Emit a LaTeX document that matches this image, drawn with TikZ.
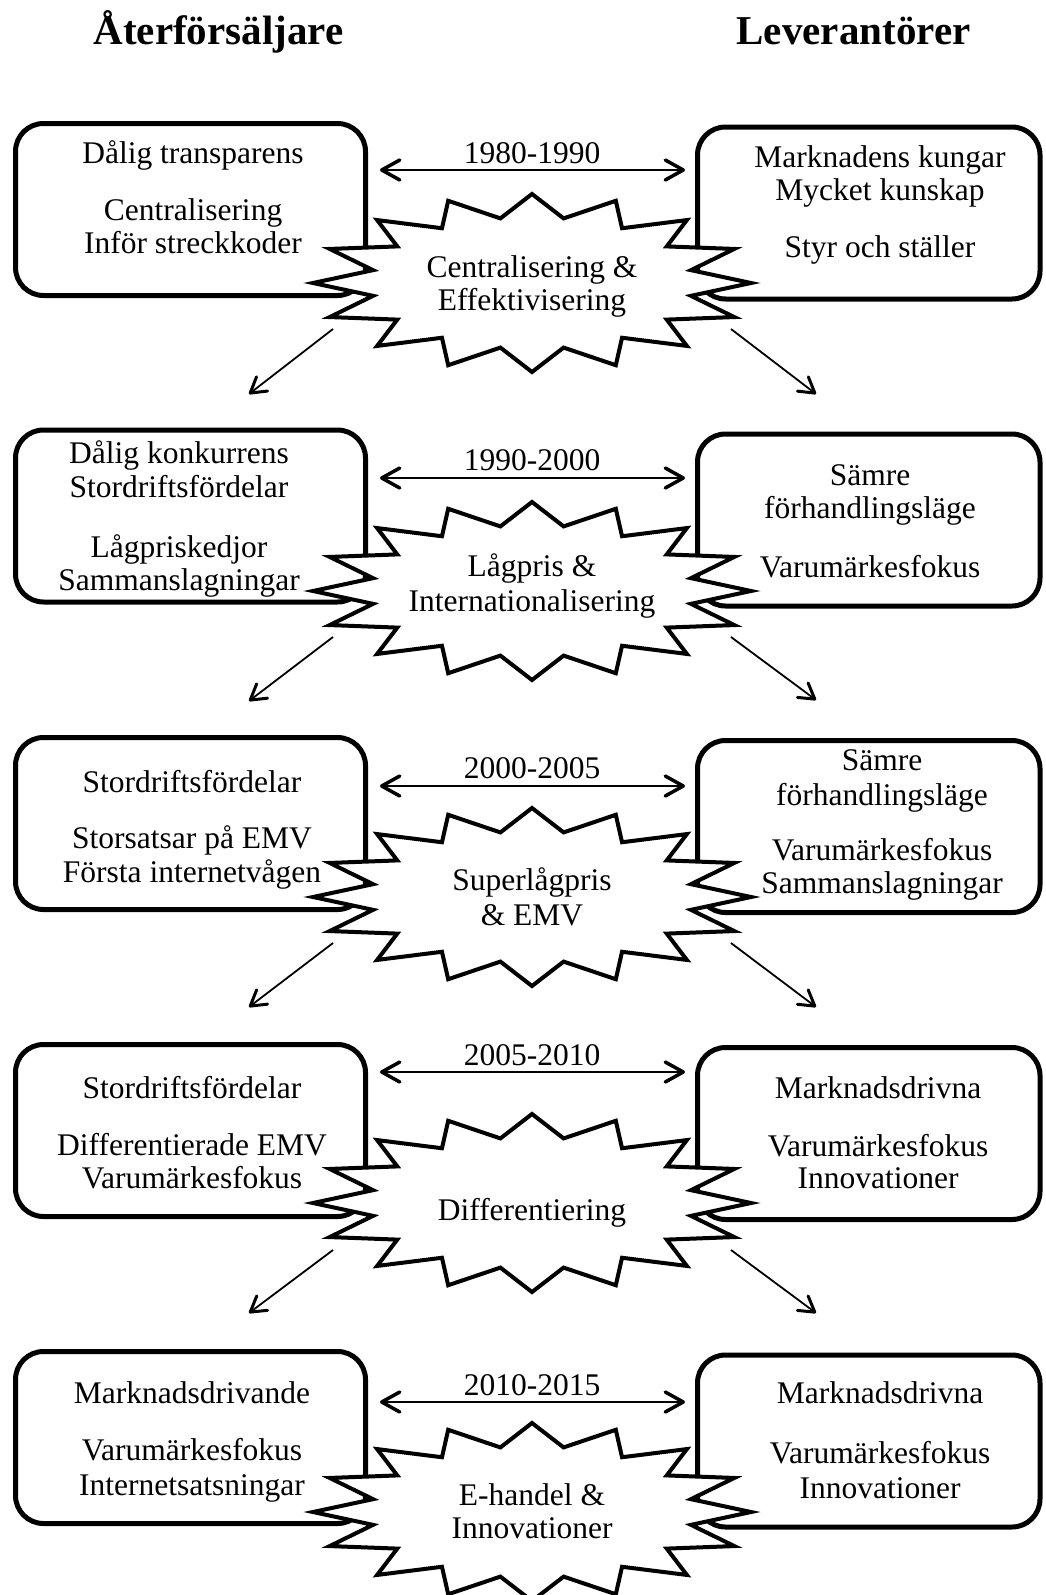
\documentclass[tikz,border=0pt]{standalone}
\usepackage{fontspec}
\setmainfont{Liberation Serif}
\usetikzlibrary{arrows.meta}

\begin{document}
\begin{tikzpicture}[x=1pt,y=-1pt,
  every node/.style={inner sep=0pt,outer sep=0pt},
  head/.style={font=\fontsize{41}{45}\selectfont\bfseries,anchor=base},
  txt/.style={font=\fontsize{31.5}{34}\selectfont,text height=21pt,text depth=7pt,anchor=center,yshift=-3pt},
  lbox/.style={draw,line width=5pt,rounded corners=28pt,minimum width=350pt,minimum height=172pt},
  rbox/.style={draw,line width=5pt,rounded corners=28pt,minimum width=342.5pt,minimum height=172pt},
  burst/.style={draw,fill=white,line width=4pt,line join=miter},
  barb/.tip={Straight Barb[length=18pt,width=20pt,line width=3.5pt,round]},
  smallbarb/.tip={Straight Barb[length=15pt,width=18pt,line width=3pt,round]},
  period/.style={line width=2.3pt,barb-barb},
  trend/.style={line width=1.8pt,-smallbarb}
]
\useasboundingbox (0,0) rectangle (1045,1595);

% 16-point burst centred at x = 532
\newcommand\burstat[1]{%
  \draw[burst] plot[samples at={0,...,31}]
    ({532+219*(1-0.26*mod(\x,2))*cos(90+11.25*\x)},
     {#1+89*(1-0.26*mod(\x,2))*sin(90+11.25*\x)}) -- cycle;}

% column headings
\node[head] (hL) at (218.5,45) {Återförsäljare};
\node[head] (hR) at (853.5,45) {Leverantörer};

% ---------- boxes ----------
\node[lbox] (L1) at (190.5,209.5) {};
\node[rbox] (R1) at (868.75,213) {};
\node[lbox] (L2) at (190.5,516) {};
\node[rbox] (R2) at (868.75,520) {};
\node[lbox] (L3) at (190.5,823.5) {};
\node[rbox] (R3) at (868.75,826.5) {};
\node[lbox] (L4) at (190.5,1130.5) {};
\node[rbox] (R4) at (868.75,1133.5) {};
\node[lbox] (L5) at (190.5,1437.5) {};
\node[rbox] (R5) at (868.75,1441) {};

% ---------- bursts ----------
\burstat{283}
\burstat{591}
\burstat{897}
\burstat{1203}
\burstat{1512}

\node[txt] (S1a) at (532,267) {Centralisering \&};
\node[txt] (S1b) at (532,300) {Effektivisering};
\node[txt] (S2a) at (532,566) {Lågpris \&};
\node[txt] (S2b) at (532,601) {Internationalisering};
\node[txt] (S3a) at (532,880) {Superlågpris};
\node[txt] (S3b) at (532,915) {\& EMV};
\node[txt] (S4)  at (532,1210) {Differentiering};
\node[txt] (S5a) at (532,1495) {E-handel \&};
\node[txt] (S5b) at (532,1528) {Innovationer};

% ---------- box texts ----------
% period 1
\node[txt] (l1a) at (193,153) {Dålig transparens};
\node[txt] (l1b) at (193,210) {Centralisering};
\node[txt] (l1c) at (193,243) {Inför streckkoder};
\node[txt] (r1a) at (880,157) {Marknadens kungar};
\node[txt] (r1b) at (880,190) {Mycket kunskap};
\node[txt] (r1c) at (880,247) {Styr och ställer};
% period 2
\node[txt] (l2a) at (179,453) {Dålig konkurrens};
\node[txt] (l2b) at (179,487) {Stordriftsfördelar};
\node[txt] (l2c) at (179,547) {Lågpriskedjor};
\node[txt] (l2d) at (179,580) {Sammanslagningar};
\node[txt] (r2a) at (870,475) {Sämre};
\node[txt] (r2b) at (870,508) {förhandlingsläge};
\node[txt] (r2c) at (870,567) {Varumärkesfokus};
% period 3
\node[txt] (l3a) at (192,782) {Stordriftsfördelar};
\node[txt] (l3b) at (192,838) {Storsatsar på EMV};
\node[txt] (l3c) at (192,872) {Första internetvågen};
\node[txt] (r3a) at (882,760) {Sämre};
\node[txt] (r3b) at (882,795) {förhandlingsläge};
\node[txt] (r3c) at (882,850) {Varumärkesfokus};
\node[txt] (r3d) at (882,883) {Sammanslagningar};
% period 4
\node[txt] (l4a) at (192,1088) {Stordriftsfördelar};
\node[txt] (l4b) at (192,1145) {Differentierade EMV};
\node[txt] (l4c) at (192,1178) {Varumärkesfokus};
\node[txt] (r4a) at (878,1088) {Marknadsdrivna};
\node[txt] (r4b) at (878,1146) {Varumärkesfokus};
\node[txt] (r4c) at (878,1178) {Innovationer};
% period 5
\node[txt] (l5a) at (192,1393) {Marknadsdrivande};
\node[txt] (l5b) at (192,1450) {Varumärkesfokus};
\node[txt] (l5c) at (192,1485) {Internetsatsningar};
\node[txt] (r5a) at (880,1393) {Marknadsdrivna};
\node[txt] (r5b) at (880,1453) {Varumärkesfokus};
\node[txt] (r5c) at (880,1488) {Innovationer};

% ---------- period arrows and labels ----------
\node[txt] (y1) at (532,153) {1980-1990};
\node[txt] (y2) at (532,460) {1990-2000};
\node[txt] (y3) at (532,768) {2000-2005};
\node[txt] (y4) at (532,1055) {2005-2010};
\node[txt] (y5) at (532,1385) {2010-2015};

\coordinate (p1a) at (380,170);  \coordinate (p1b) at (685,170);
\coordinate (p2a) at (380,478);  \coordinate (p2b) at (685,478);
\coordinate (p3a) at (380,786);  \coordinate (p3b) at (685,786);
\coordinate (p4a) at (380,1072); \coordinate (p4b) at (685,1072);
\coordinate (p5a) at (380,1402); \coordinate (p5b) at (685,1402);
\foreach \i in {1,...,5} \draw[period] (p\i a) -- (p\i b);

% ---------- transition arrows ----------
\coordinate (dL1s) at (333,329);  \coordinate (dL1e) at (249,394);
\coordinate (dR1s) at (731,329);  \coordinate (dR1e) at (816,394);
\coordinate (dL2s) at (333,637);  \coordinate (dL2e) at (249,701);
\coordinate (dR2s) at (731,637);  \coordinate (dR2e) at (816,700);
\coordinate (dL3s) at (333,943);  \coordinate (dL3e) at (249,1007);
\coordinate (dR3s) at (731,943);  \coordinate (dR3e) at (816,1007);
\coordinate (dL4s) at (333,1250); \coordinate (dL4e) at (249,1313);
\coordinate (dR4s) at (731,1250); \coordinate (dR4e) at (816,1313);
\foreach \i in {1,...,4} {
  \draw[trend] (dL\i s) -- (dL\i e);
  \draw[trend] (dR\i s) -- (dR\i e);
}
\end{tikzpicture}
\end{document}
